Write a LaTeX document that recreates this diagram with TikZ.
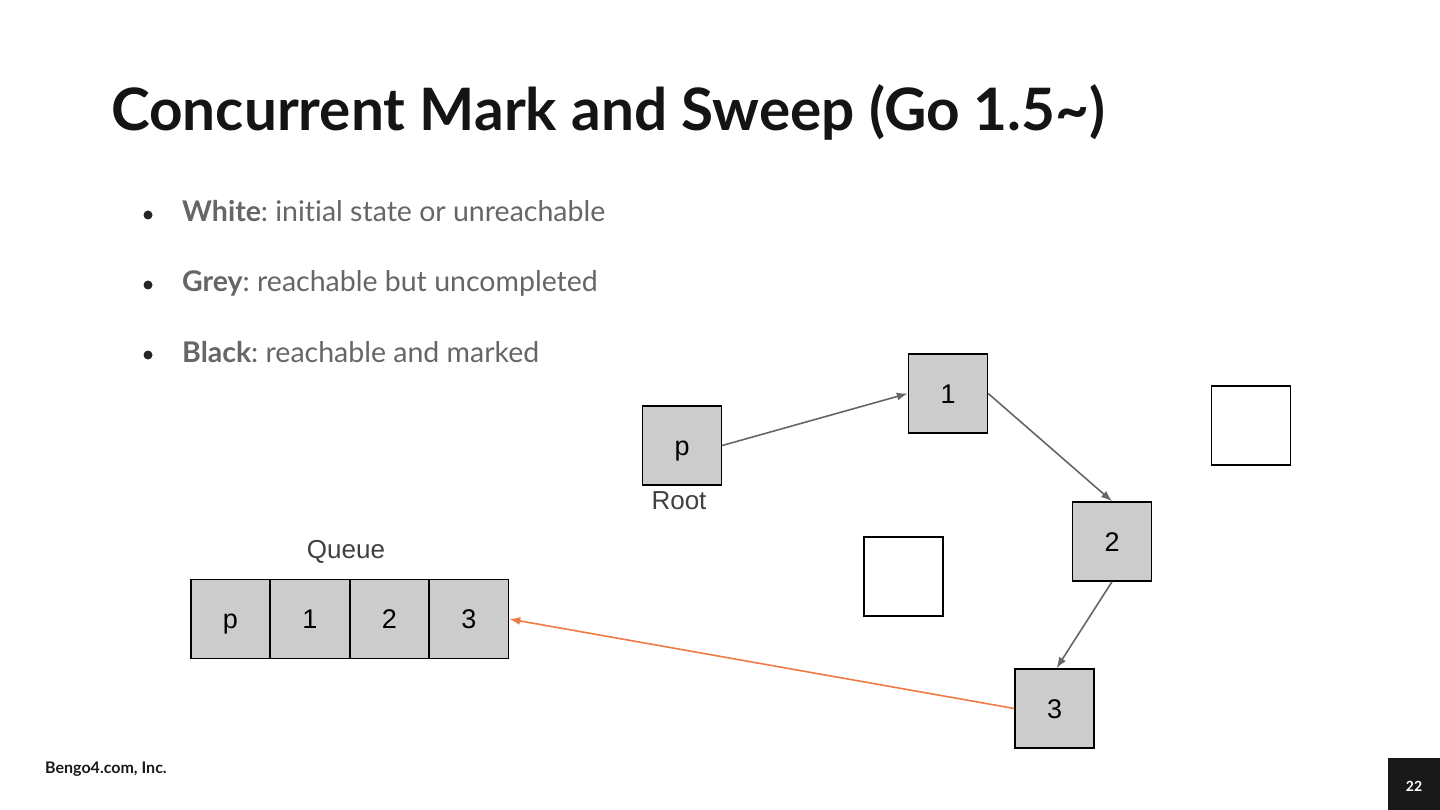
\documentclass[tikz,border=0pt]{standalone}
\usepackage{fontspec}
\setmainfont{Liberation Sans}
\newfontfamily\latofont[Ligatures=NoCommon]{Lato}
\usetikzlibrary{arrows.meta}
\definecolor{boxgrey}{HTML}{CCCCCC}
\definecolor{txtgrey}{HTML}{666666}
\definecolor{arrgrey}{HTML}{666666}
\definecolor{arrorange}{HTML}{F07A45}
\tikzset{
  obj/.style={draw=black, line width=1.4pt, fill=boxgrey, minimum width=79pt, minimum height=79pt, inner sep=0pt, text height=19.5pt, text depth=0pt, font=\fontsize{27}{30}\selectfont},
  whiteobj/.style={obj, fill=white},
  link/.style={draw=arrgrey, line width=1.6pt, -{Latex[length=11pt,width=8pt]}},
  qlink/.style={draw=arrorange, line width=1.6pt, -{Latex[length=11pt,width=8pt]}},
  bullet/.style={anchor=base west, text=txtgrey, font=\latofont\fontsize{28.5}{32}\selectfont\frenchspacing, inner sep=0pt},
  dot/.style={circle, fill=black!85, inner sep=0pt, minimum size=9pt},
  caption/.style={anchor=base, inner sep=0pt, font=\fontsize{26}{30}\selectfont, text=black!75},
}
\begin{document}
\begin{tikzpicture}[x=1pt,y=-1pt]
\useasboundingbox (0,0) rectangle (1440,810);
\fill[white] (0,0) rectangle (1440,810);
% title
\node[anchor=base west, inner sep=0pt, font=\latofont\bfseries\fontsize{58.5}{62}\selectfont, text=black!92] (title) at (111,131) {Concurrent Mark and Sweep (Go 1.5\char`~)};
% bullets
\node[dot] (d1) at (148,215) {};
\node[dot] (d2) at (148,285) {};
\node[dot] (d3) at (148,355) {};
\node[bullet] (b1) at (182,222) {\textbf{White}: initial state or unreachable};
\node[bullet] (b2) at (182,292) {\textbf{Grey}: reachable but uncompleted};
\node[bullet] (b3) at (182,362) {\textbf{Black}: reachable and marked};
% objects
\node[obj] (p) at (682,445.5) {p};
\node[obj] (o1) at (948,393.5) {1};
\node[whiteobj] (w1) at (1251,425.5) {};
\node[obj] (o2) at (1112,541.5) {2};
\node[whiteobj] (w2) at (903.5,576.5) {};
\node[obj] (o3) at (1054.5,708.5) {3};
\node[caption] (root) at (679,509) {Root};
% queue
\node[obj] (q1) at (230.5,619) {p};
\node[obj] (q2) at (310,619) {1};
\node[obj] (q3) at (389.5,619) {2};
\node[obj] (q4) at (469,619) {3};
\node[caption] (qlabel) at (346,558) {Queue};
% links
\draw[link] (p.east) -- (o1.west);
\draw[link] (o1.east) -- (o2.north);
\draw[link] (o2.south) -- ([xshift=2pt]o3.north);
\draw[qlink] (o3.west) -- (q4.east);
% footer
\node[anchor=base west, inner sep=0pt, font=\latofont\bfseries\fontsize{16}{18}\selectfont, text=black!90] (foot) at (45,773) {Bengo4.com, Inc.};
\fill[black!90] (1388,758) rectangle (1440,810);
\node[inner sep=0pt, text=white, font=\latofont\bfseries\fontsize{14}{16}\selectfont] (page) at (1414,786) {22};
\end{tikzpicture}
\end{document}
